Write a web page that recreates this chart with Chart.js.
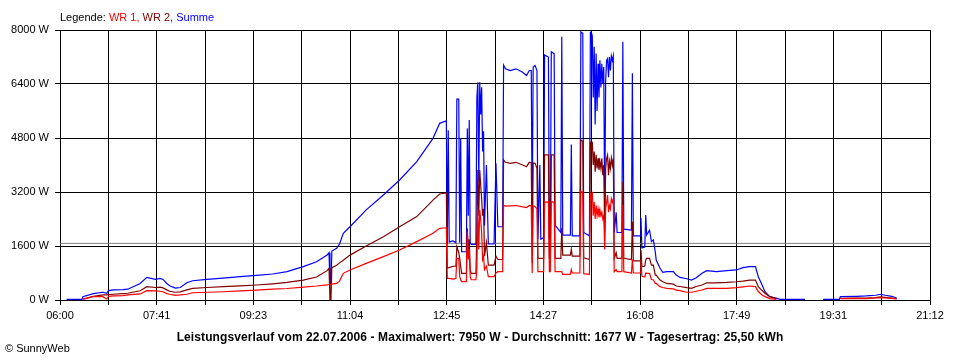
<!DOCTYPE html>
<html><head><meta charset="utf-8">
<script src="https://cdn.jsdelivr.net/npm/chart.js@4/dist/chart.umd.min.js"></script>
<style>
html,body{margin:0;padding:0;background:#fff;}
#wrap{position:relative;width:960px;height:360px;font-family:"Liberation Sans",Arial,sans-serif;color:#000;}
canvas{position:absolute;left:0;top:0;}
.txt{position:absolute;white-space:nowrap;}
#legend{left:60px;top:11px;font-size:11px;line-height:13px;}
#caption{left:0;width:960px;top:330px;text-align:center;font-weight:bold;font-size:12px;line-height:14px;letter-spacing:0.1px;}
#copy{left:5px;top:342px;font-size:11px;line-height:13px;}
</style></head>
<body>
<div id="wrap">
<canvas id="c" width="960" height="360"></canvas>
<div class="txt" id="legend">Legende: <span style="color:#ff0000">WR 1,</span> <span style="color:#800000">WR 2,</span> <span style="color:#0000ff">Summe</span></div>
<div class="txt" id="caption">Leistungsverlauf vom 22.07.2006 - Maximalwert: 7950 W - Durchschnitt: 1677 W - Tagesertrag: 25,50 kWh</div>
<div class="txt" id="copy">© SunnyWeb</div>
</div>
<script>
const xTickLabels = ['06:00','07:41','09:23','11:04','12:45','14:27','16:08','17:49','19:31','21:12'];
const yTickValues = [0,1600,3200,4800,6400,8000];
const avgPower = 1677;

const times = [
'06:07','06:23','06:24','06:35','06:45','06:49','06:51','06:56','07:06','07:11',
'07:24','07:31','07:40','07:45','07:48','07:52','07:55','08:01','08:06','08:13',
'08:19','08:34','08:51','09:09','09:26','09:43','09:58','10:15','10:29','10:40',
'10:42','10:43','10:44','10:45','10:50','10:53','10:57','11:04','11:21','11:39',
'11:56','12:14','12:31','12:38','12:45','12:46','12:47','12:48','12:52','12:55',
'12:56','12:58','12:59','13:00','13:01','13:06','13:07','13:08','13:09','13:10',
'13:11','13:16','13:17','13:18','13:19','13:20','13:21','13:22','13:23','13:24',
'13:25','13:27','13:29','13:35','13:37','13:39','13:44','13:45','13:47','13:52',
'13:58','14:05','14:09','14:12','14:14','14:15','14:16','14:18','14:20','14:21',
'14:23','14:24','14:27','14:28','14:32','14:33','14:34','14:35','14:38','14:39',
'14:45','14:46','14:47','14:55','14:56','14:57','15:05','15:06','15:08','15:09',
'15:15','15:16','15:17','15:18','15:19','15:20','15:21','15:22','15:23','15:24',
'15:25','15:26','15:27','15:28','15:29','15:30','15:31','15:32','15:33','15:34',
'15:35','15:36','15:37','15:38','15:39','15:40','15:41','15:43',
'15:44','15:49','15:50','15:51','15:59','16:00','16:01','16:08','16:09','16:10',
'16:13','16:14','16:15','16:18','16:20','16:22','16:24','16:25','16:29','16:32',
'16:36','16:43','16:46','16:50','16:57','17:02','17:07','17:13','17:18','17:28',
'17:39','17:49','17:56','18:03','18:09','18:12','18:16','18:19','18:24','18:31',
'18:35','19:01','19:02','19:20','19:37','19:38','19:55','20:05','20:15','20:20',
'20:25','20:32','20:37','20:38'];

const wr1 = [
null,null,20,100,100,30,110,120,130,150,
180,275,270,260,245,190,170,140,150,170,
215,230,245,270,295,320,340,380,415,450,
460,460,460,470,490,560,790,890,1085,1285,
1480,1730,1975,2125,2140,640,640,640,620,640,
1235,1235,700,600,545,545,2025,1200,1500,700,
600,600,900,2670,1500,2670,2400,2000,1200,1300,
900,1000,690,690,800,840,840,2815,2780,2790,
2800,2760,2740,2800,2790,800,2790,2770,2700,840,
840,840,840,2910,2900,840,840,2910,2900,840,
840,840,760,760,900,800,800,3210,3200,780,
760,3110,3000,3210,2500,2900,2400,2800,2500,2700,
2450,2670,2500,2600,2400,2500,1500,2700,2900,3110,
2600,2800,2700,3000,2900,3000,840,900,
840,840,2815,840,800,1200,800,800,1185,700,
680,800,790,790,600,600,490,490,395,370,
345,330,295,280,230,230,260,295,345,345,
345,365,390,415,395,250,150,100,40,20,
null,null,null,null,null,40,50,40,60,70,
60,50,30,null];

const wr2 = [
null,null,30,110,150,150,160,170,190,200,
275,395,370,380,360,300,260,230,240,300,
345,370,395,420,445,480,520,590,680,870,
940,0,0,960,1030,1100,1180,1330,1600,1875,
2170,2470,2960,3140,3170,950,960,960,1000,1000,
1580,1400,1235,1000,790,790,2125,1400,1800,900,
790,790,2000,3850,2500,3850,3400,3000,2500,2700,
1300,1700,1035,1035,1300,1200,1200,4150,4080,4050,
4080,4000,3950,4080,4060,1100,4060,4050,3900,1235,
1235,1235,1235,4300,4300,1235,1235,4300,4300,1235,
1235,2130,1330,1330,1500,1300,1300,4740,4700,1250,
1200,4690,4500,4690,4000,4400,3800,4300,3900,4200,
3850,4100,3900,4200,3700,4000,2000,3900,4200,4300,
3700,4100,3900,4200,4000,4200,1235,1400,
1235,1235,3505,1235,1200,2320,1160,1160,1480,990,
1000,1185,1235,1235,1035,1035,740,740,590,540,
490,470,415,400,365,345,400,445,510,510,
520,540,560,590,590,395,280,200,100,50,
null,null,null,null,null,50,60,60,70,90,
80,60,40,null];

const summe = [
20,20,100,190,230,200,280,300,310,320,
490,670,610,640,610,490,420,355,370,510,
570,610,650,690,730,770,840,990,1135,1330,
1400,460,460,1450,1530,1660,1975,2170,2670,3110,
3555,4100,4790,5235,5310,1650,5030,1720,1750,1700,
5950,5950,1700,4790,1430,1430,5085,2500,5330,1700,
1650,1650,6000,6450,3500,6450,5500,6300,4400,5000,
2200,4000,1660,1660,4050,2170,2170,6960,6850,6800,
6850,6750,6650,6800,6800,2500,6900,6950,6800,1800,
4000,1800,1850,7260,7200,1850,1900,7355,7300,2220,
2000,7800,1925,1925,4610,1900,1900,7940,7900,2000,
1900,7950,7700,7800,6000,7500,5200,7300,5600,7000,
6000,7100,6300,7000,6400,6900,2500,6500,7100,7150,
6600,7200,6800,7230,7100,7230,2000,2600,
2000,2000,7650,2100,2070,6715,1900,1900,2430,1540,
1570,2520,1925,2070,1730,1780,1430,1185,940,820,
840,840,740,670,630,590,660,790,870,840,
870,890,960,990,990,690,445,245,100,50,
20,20,null,20,20,100,110,120,140,170,
140,110,60,null];

function toMin(t){const p=t.split(':');return (+p[0])*60+(+p[1]);}
const xStart = toMin(xTickLabels[0]);
const xEnd = toMin(xTickLabels[xTickLabels.length-1]);
const gridCount = (xTickLabels.length-1)*2;
const pts = arr => times.map((t,i)=>({x:toMin(t), y:arr[i]}));

Chart.defaults.font.family = '"Liberation Sans", Arial, sans-serif';
Chart.defaults.font.size = 11;
Chart.defaults.color = '#000';

const lineDs = (label, arr, color, order) => ({
  label, data: pts(arr), borderColor: color, backgroundColor: color,
  borderWidth: 1.2, pointRadius: 0, tension: 0, fill: false, spanGaps: false, order
});

new Chart(document.getElementById('c'), {
  type: 'line',
  data: {
    datasets: [
      lineDs('WR 1', wr1, '#ff0000', 1),
      lineDs('WR 2', wr2, '#800000', 2),
      lineDs('Summe', summe, '#0000ff', 3),
      {label:'Durchschnitt', data:[{x:xStart,y:avgPower},{x:xEnd,y:avgPower}],
       borderColor:'#808080', borderWidth:1, pointRadius:0, fill:false, order:4}
    ]
  },
  options: {
    responsive: false,
    animation: false,
    events: [],
    layout: {padding: {top: 30, right: 30, left: 0, bottom: 0}},
    plugins: {legend: {display: false}, tooltip: {enabled: false}, title: {display: false}},
    scales: {
      x: {
        type: 'linear', min: xStart, max: xEnd,
        afterBuildTicks: s => { s.ticks = Array.from({length: gridCount+1}, (_, i) => ({value: xStart + (xEnd-xStart)*i/gridCount})); },
        afterFit: s => { s.height = 60; },
        ticks: {autoSkip: false, maxRotation: 0, minRotation: 0, padding: 4,
                callback: (v, i) => (i % 2 === 0 ? xTickLabels[i/2] : '')},
        grid: {color: '#000', lineWidth: 1, tickLength: 5, tickColor: '#000', drawTicks: true},
        border: {display: true, color: '#000', width: 1}
      },
      y: {
        min: 0, max: 8000,
        afterBuildTicks: s => { s.ticks = yTickValues.map(v => ({value: v})); },
        afterFit: s => { s.width = 60; },
        ticks: {padding: 6, callback: v => v + ' W'},
        grid: {color: '#000', lineWidth: 1, tickLength: 5, tickColor: '#000', drawTicks: true},
        border: {display: true, color: '#000', width: 1}
      }
    }
  }
});
</script>
</body></html>
